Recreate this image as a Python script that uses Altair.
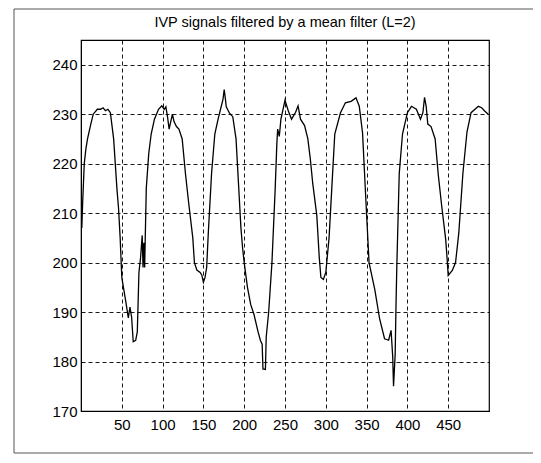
import altair as alt
import pandas as pd

title_text = "IVP signals filtered by a mean filter (L=2)"

sample = [1, 2, 4, 6, 8, 12, 15, 20, 24, 27, 30, 33, 36, 40, 44, 46, 48, 50, 52, 55,
          58, 60, 62, 64, 67, 69, 71, 73, 75, 76, 77, 78, 80, 83, 86, 90, 95, 99, 102, 104,
          106, 108, 110, 112, 114, 117, 120, 124, 128, 132, 137, 139, 142, 146, 148, 150, 152, 154, 156, 160,
          164, 168, 171, 174, 175.5, 177, 178, 182, 186, 190, 193, 196, 198, 200, 204, 208, 212, 217, 220, 222,
          223, 226, 227, 230, 234, 238, 240, 241, 243, 245, 250, 254, 258, 263, 266, 269, 274, 278, 281, 284,
          289, 292, 294, 297, 300, 304, 307, 311, 318, 324, 331, 337, 341, 345, 349, 353, 360, 366, 372, 377,
          380, 382, 383, 385, 386, 387, 390, 394, 400, 405, 411, 416, 419, 421, 423, 425, 429, 434, 438, 442,
          447, 449, 450, 455, 459, 463, 468, 473, 478, 487, 491, 495, 499]

ivp = [207, 212, 220, 223, 225, 228, 230, 231, 231, 231.3, 230.7, 231, 230.3, 225, 215, 211, 205, 197, 195, 192,
       188.8, 191, 189, 184, 184.3, 186, 198, 201, 205.5, 199, 204, 199, 215, 222, 226, 229, 231, 231.7, 231, 231.5,
       229.5, 227, 228.5, 230, 228.5, 227.5, 227, 225, 218, 212, 205, 200, 198.5, 198, 197.5, 196, 197, 199, 206, 218,
       226, 229, 231, 233, 235, 233, 231.5, 230.2, 229.5, 225, 216, 207, 203, 200, 195, 191.5, 189.5, 186, 184.2, 183.5,
       178.5, 178.4, 185, 190, 200, 215, 224, 227, 225.5, 229, 232.8, 230.7, 229, 230.4, 231.7, 229, 227.7, 225, 221, 216,
       209.5, 201, 197, 196.6, 198, 205, 214, 226, 230.3, 232.3, 232.6, 233.3, 231.6, 226.3, 213, 200, 194.6, 188.6, 184.6, 184.3,
       186.3, 181, 175, 181.4, 191, 199, 218, 226, 230.3, 231.6, 231, 229, 230.3, 233.4, 231.6, 228, 227.5, 225, 217.5, 211.5,
       204.6, 200, 197.4, 198.4, 200, 206, 218, 226.4, 230.3, 231.6, 231.3, 230.6, 230]

x_ticks = [50, 100, 150, 200, 250, 300, 350, 400, 450]
y_ticks = [170, 180, 190, 200, 210, 220, 230, 240]

df = pd.DataFrame({"n": sample, "v": ivp})

FONT = "Liberation Sans"

line = alt.Chart(df).mark_line(color="black", strokeWidth=1.3, clip=True).encode(
    x=alt.X("n:Q", scale=alt.Scale(domain=[0, 500], nice=False, zero=False),
            axis=alt.Axis(values=x_ticks, title=None, grid=True, gridColor="black",
                          gridDash=[4, 3], gridOpacity=0.9, gridWidth=1,
                          ticks=False, labelPadding=6, labelFontSize=15,
                          labelFont=FONT, labelColor="black",
                          domainColor="black", labelFlush=False)),
    y=alt.Y("v:Q", scale=alt.Scale(domain=[170, 245], nice=False, zero=False),
            axis=alt.Axis(values=y_ticks, title=None, grid=True, gridColor="black",
                          gridDash=[4, 3], gridOpacity=0.9, gridWidth=1,
                          ticks=False, labelPadding=4, labelFontSize=15,
                          labelFont=FONT, labelColor="black",
                          domainColor="black", labelFlush=False)),
)

frame = alt.Chart(pd.DataFrame({"a": [0]})).mark_rect(
    fill=None, stroke="#555", strokeWidth=1, clip=False
).encode(x=alt.value(-67), x2=alt.value(454), y=alt.value(-31), y2=alt.value(413))

title_mark = alt.Chart(pd.DataFrame({"t": [title_text]})).mark_text(
    font=FONT, fontSize=14.5, color="black", align="center", baseline="alphabetic"
).encode(text="t:N", x=alt.value(204), y=alt.value(-13))

chart = alt.layer(frame, line, title_mark).properties(
    width=408, height=371,
    padding={"left": 73, "top": 32, "right": 44, "bottom": 44},
    autosize=alt.AutoSizeParams(type="none"),
    background="white",
).configure_view(stroke="black", strokeWidth=1.2)

chart.save("out.html", embed_options={"renderer": "svg", "actions": False})
